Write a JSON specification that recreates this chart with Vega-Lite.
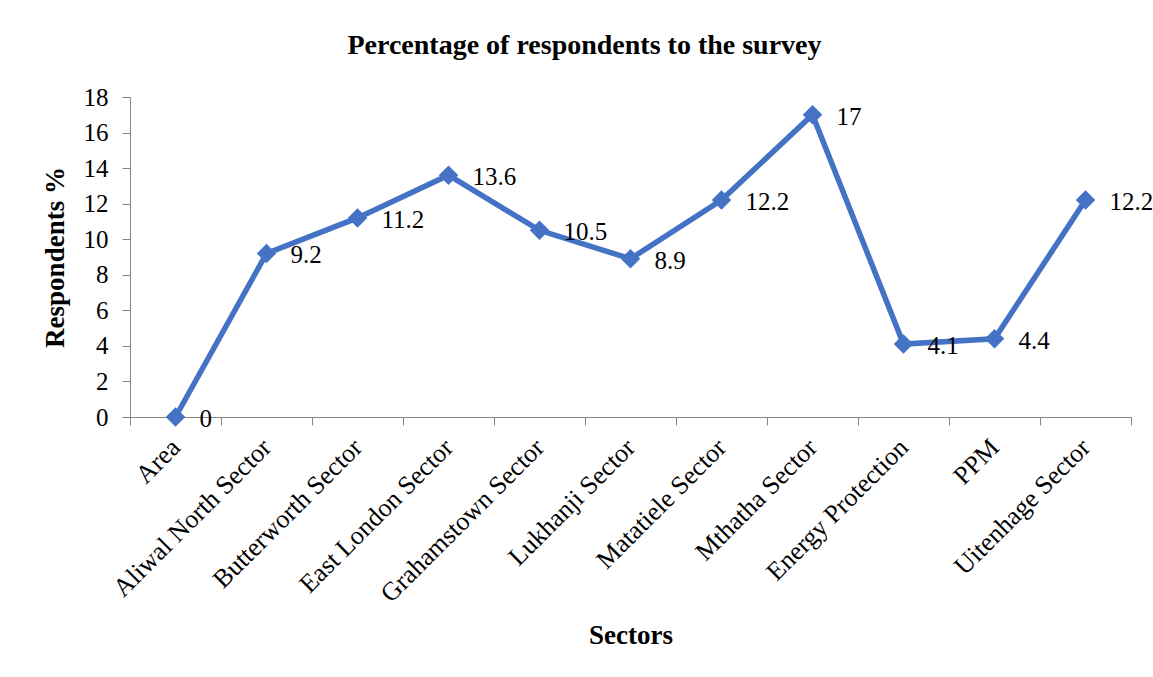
{
  "$schema": "https://vega.github.io/schema/vega-lite/v6.json",
  "width": 1001,
  "height": 320,
  "autosize": {"type": "none"},
  "padding": {"left": 130, "top": 97, "right": 22, "bottom": 260},
  "background": "white",
  "title": {
    "text": "Percentage of respondents to the survey",
    "font": "Liberation Serif",
    "fontSize": 28,
    "fontWeight": "bold",
    "color": "black",
    "anchor": "middle",
    "dx": -46,
    "offset": 25
  },
  "data": {
    "values": [
      {"sector": "Area", "value": 0},
      {"sector": "Aliwal North Sector", "value": 9.2},
      {"sector": "Butterworth Sector", "value": 11.2},
      {"sector": "East London Sector", "value": 13.6},
      {"sector": "Grahamstown Sector", "value": 10.5},
      {"sector": "Lukhanji Sector", "value": 8.9},
      {"sector": "Matatiele Sector", "value": 12.2},
      {"sector": "Mthatha Sector", "value": 17},
      {"sector": "Energy Protection", "value": 4.1},
      {"sector": "PPM", "value": 4.4},
      {"sector": "Uitenhage Sector", "value": 12.2}
    ]
  },
  "encoding": {
    "x": {
      "field": "sector",
      "type": "nominal",
      "sort": null,
      "scale": {"type": "band", "paddingInner": 0, "paddingOuter": 0},
      "axis": {
        "title": "Sectors",
        "titleFont": "Liberation Serif",
        "titleFontSize": 27,
        "titleFontWeight": "bold",
        "titleColor": "black",
        "titlePadding": 16,
        "labelAngle": -45,
        "labelAlign": "right",
        "labelBaseline": "middle",
        "labelFont": "Liberation Serif",
        "labelFontSize": 26,
        "labelColor": "black",
        "labelPadding": 18,
        "labelLimit": 0,
        "tickBand": "extent",
        "tickSize": 8,
        "tickColor": "#868686",
        "domainColor": "#868686",
        "grid": false
      }
    },
    "y": {
      "field": "value",
      "type": "quantitative",
      "scale": {"domain": [0, 18], "nice": false},
      "axis": {
        "title": "Respondents %",
        "titleFont": "Liberation Serif",
        "titleFontSize": 27,
        "titleFontWeight": "bold",
        "titleColor": "black",
        "titlePadding": 14,
        "values": [0, 2, 4, 6, 8, 10, 12, 14, 16, 18],
        "labelFont": "Liberation Serif",
        "labelFontSize": 25,
        "labelColor": "black",
        "labelPadding": 14,
        "tickSize": 8,
        "tickColor": "#868686",
        "domainColor": "#868686",
        "grid": false
      }
    }
  },
  "layer": [
    {
      "mark": {"type": "line", "color": "#4472C4", "strokeWidth": 5.5}
    },
    {
      "mark": {"type": "point", "shape": "diamond", "filled": true, "color": "#4472C4", "opacity": 1, "size": 380}
    },
    {
      "mark": {"type": "text", "align": "left", "baseline": "middle", "dx": 24, "dy": 2, "font": "Liberation Serif", "fontSize": 25, "color": "black"},
      "encoding": {"text": {"field": "value", "type": "quantitative"}}
    }
  ],
  "config": {"view": {"stroke": null}}
}
